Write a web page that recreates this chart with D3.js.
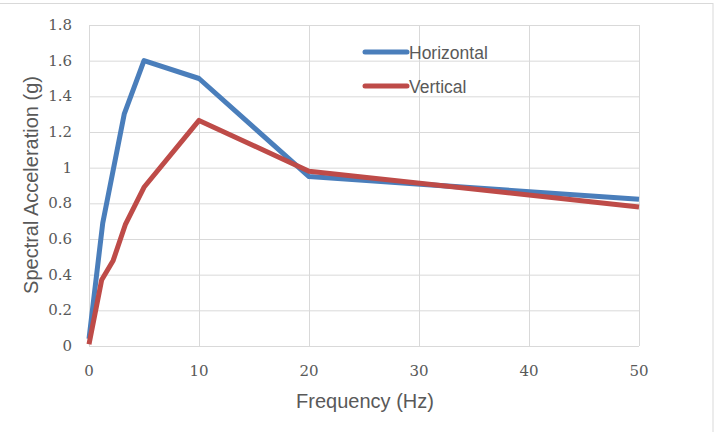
<!DOCTYPE html>
<html>
<head>
<meta charset="utf-8">
<script src="https://cdn.jsdelivr.net/npm/d3@7"></script>
<style>
  body { margin: 0; background: #fff; }
  svg { display: block; }
</style>
</head>
<body>
<svg width="718" height="432"></svg>
<script>
const seriesNames = ['Horizontal', 'Vertical'];
const seriesColors = ['#4a7ebb', '#be4b48'];
const horizontalFreq = [0, 1.25, 3.2, 5, 10, 20, 50];
const horizontalAcc = [0.04, 0.69, 1.3, 1.6, 1.5, 0.95, 0.823];
const verticalFreq = [0, 1.15, 2.2, 3.3, 5, 10, 20, 50];
const verticalAcc = [0.01, 0.37, 0.48, 0.68, 0.89, 1.265, 0.98, 0.78];
const xTicks = [0, 10, 20, 30, 40, 50];
const yTicks = [0, 0.2, 0.4, 0.6, 0.8, 1, 1.2, 1.4, 1.6, 1.8];

const plotLeft = 89, plotRight = 639, plotTop = 25, plotBottom = 346;

const svg = d3.select('svg');

// chart frame
svg.append('rect')
  .attr('x', -2).attr('y', 3.5)
  .attr('width', 715).attr('height', 440)
  .attr('fill', 'none')
  .attr('stroke', '#d9d9d9');

const xScale = d3.scaleLinear().domain([0, 50]).range([plotLeft, plotRight]);
const yScale = d3.scaleLinear().domain([0, 1.8]).range([plotBottom, plotTop]);

// grid
svg.append('g')
  .attr('transform', `translate(0, ${plotBottom})`)
  .call(d3.axisBottom(xScale).tickValues(xTicks).tickSize(-(plotBottom - plotTop)).tickFormat(''))
  .call(g => g.select('.domain').remove())
  .selectAll('line')
  .attr('stroke', '#d9d9d9');

svg.append('g')
  .attr('transform', `translate(${plotLeft}, 0)`)
  .call(d3.axisLeft(yScale).tickValues(yTicks).tickSize(-(plotRight - plotLeft)).tickFormat(''))
  .call(g => g.select('.domain').remove())
  .selectAll('line')
  .attr('stroke', '#d9d9d9');

// tick labels
svg.append('g')
  .selectAll('text')
  .data(xTicks)
  .enter()
  .append('text')
  .attr('x', d => xScale(d))
  .attr('y', 376)
  .attr('text-anchor', 'middle')
  .style('font-family', '"DejaVu Serif", serif')
  .style('font-size', '15px')
  .style('fill', '#595959')
  .text(d => d);

svg.append('g')
  .selectAll('text')
  .data(yTicks)
  .enter()
  .append('text')
  .attr('x', 72)
  .attr('y', d => yScale(d) + 5)
  .attr('text-anchor', 'end')
  .style('font-family', '"DejaVu Serif", serif')
  .style('font-size', '15px')
  .style('fill', '#595959')
  .text(d => d);

// axis titles
svg.append('text')
  .attr('x', 365)
  .attr('y', 408)
  .attr('text-anchor', 'middle')
  .style('font-family', '"Liberation Sans", Arial, sans-serif')
  .style('font-size', '20px')
  .style('fill', '#595959')
  .text('Frequency (Hz)');

svg.append('text')
  .attr('transform', 'translate(38, 185) rotate(-90)')
  .attr('text-anchor', 'middle')
  .style('font-family', '"Liberation Sans", Arial, sans-serif')
  .style('font-size', '20px')
  .style('fill', '#595959')
  .text('Spectral Acceleration (g)');

// lines
const series = [
  d3.zip(horizontalFreq, horizontalAcc),
  d3.zip(verticalFreq, verticalAcc)
];

const line = d3.line()
  .x(d => xScale(d[0]))
  .y(d => yScale(d[1]));

svg.append('g')
  .selectAll('path')
  .data(series)
  .enter()
  .append('path')
  .attr('d', line)
  .attr('fill', 'none')
  .attr('stroke', (d, i) => seriesColors[i])
  .attr('stroke-width', 5)
  .attr('stroke-linejoin', 'round');

// legend
const legend = svg.append('g')
  .selectAll('g')
  .data(seriesNames)
  .enter()
  .append('g')
  .attr('transform', (d, i) => `translate(365, ${52 + i * 34})`);

legend.append('line')
  .attr('x1', 0).attr('x2', 42)
  .attr('stroke', (d, i) => seriesColors[i])
  .attr('stroke-width', 5)
  .attr('stroke-linecap', 'round');

legend.append('text')
  .attr('x', 44)
  .attr('y', 7)
  .style('font-family', '"Liberation Sans", Arial, sans-serif')
  .style('font-size', '17.5px')
  .style('fill', '#595959')
  .text(d => d);
</script>
</body>
</html>
